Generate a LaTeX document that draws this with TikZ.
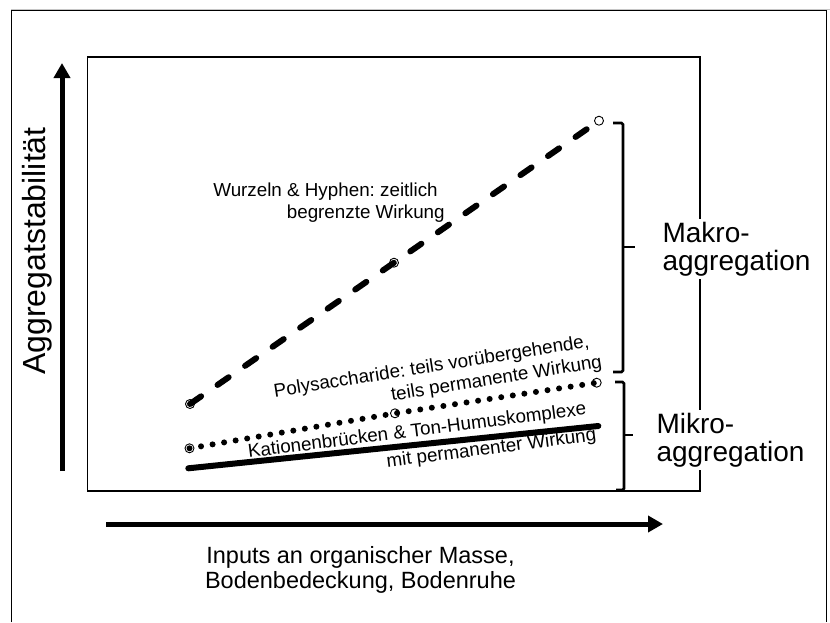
\documentclass[tikz,border=0pt]{standalone}
\usepackage{fontspec}
\setmainfont{Liberation Sans}
\usetikzlibrary{arrows.meta,positioning}
\frenchspacing

\begin{document}
\begin{tikzpicture}[x=1pt,y=-1pt,
  ax/.style={line width=5pt,-{Triangle[length=15pt,width=16pt]}},
  brc/.style={line width=2.6pt,rounded corners=1.5pt},
  mk/.style={circle,draw,line width=0.9pt,fill=white,minimum size=9pt,inner sep=0pt},
  lbl/.style={inner sep=0pt,align=right,font=\fontsize{18.8}{22}\selectfont},
  big/.style={fill=white,align=left,font=\fontsize{28}{28}\selectfont}]
  \useasboundingbox (0,0) rectangle (830,622);
  \draw[gray!45,line width=0.8pt] (11,9) -- (830,9);
  \draw[line width=1pt] (11,622) -- (11,10) -- (826,10) -- (826,622);
  \draw[line width=1.8pt] (87.5,57) rectangle (700,491);
  % axes
  \coordinate (yb) at (62,471);
  \coordinate (yt) at (62,63);
  \coordinate (xl) at (106,524);
  \coordinate (xr) at (663,524);
  \draw[ax] (yb) -- (yt);
  \draw[ax] (xl) -- (xr);
  \node[font=\fontsize{32}{33}\selectfont,rotate=90] (ylab) at (37,251) {Aggregatstabilität};
  \node[align=center,inner sep=0pt,font=\fontsize{23.5}{25}\selectfont] (xlab) at (360.5,569.5) {Inputs an organischer Masse,\\Bodenbedeckung, Bodenruhe};
  % data points
  \node[mk] (w0) at (190,404) {};
  \node[mk] (w1) at (394,262.7) {};
  \node[mk] (w2) at (599,120.7) {};
  \node[mk] (p0) at (189.5,448.3) {};
  \node[mk] (p1) at (395,413.3) {};
  \node[mk] (p2) at (596.7,382.7) {};
  \coordinate (k0) at (188.3,468.3);
  \coordinate (k1) at (598.3,426);
  \draw[line width=6pt,line cap=round,dash pattern=on 13.5pt off 20pt] (w0.center) -- (w1.center) -- (w2.center);
  \draw[line width=6pt,line cap=round,dash pattern=on 0pt off 11.7pt] (p0.center) -- (p1.center) -- (p2.center);
  \draw[line width=6pt,line cap=round] (k0) -- (k1);
  % labels
  \node[lbl] (wurz) at (329,203) {Wurzeln \& Hyphen: zeitlich\hspace*{7pt}\\begrenzte Wirkung};
  \node[lbl,rotate=9] (poly) at (438,377.5) {Polysaccharide: teils vorübergehende,\hspace*{9.5pt}\\teils permanente Wirkung};
  \node[lbl,rotate=7.3,font=\fontsize{18.8}{27}\selectfont] (kat) at (422.2,444.4) {Kationenbrücken \& Ton-Humuskomplexe\hspace*{6.5pt}\\mit permanenter Wirkung};
  % braces
  \draw[brc] (613,123) -| (623,372) -- (613,372);
  \draw[brc] (623,247) -- (635,247);
  \draw[brc] (615,382) -| (624,490) -- (616,490);
  \draw[brc] (624,435) -- (633,435);
  \node[big,anchor=west] (makro) at (659,249) {Makro-\\aggregation};
  \node[big,anchor=west] (mikro) at (653,440) {Mikro-\\aggregation};
\end{tikzpicture}
\end{document}
